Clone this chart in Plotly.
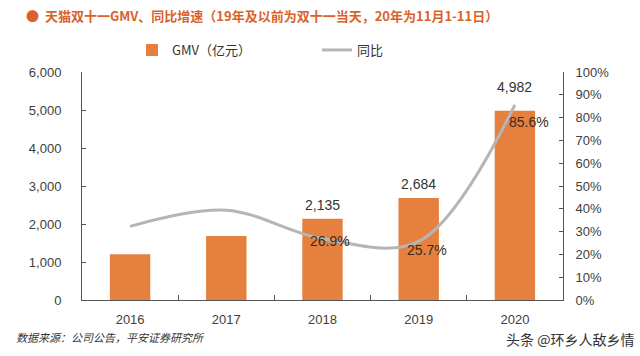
import plotly.graph_objects as go

years = ["2016", "2017", "2018", "2019", "2020"]
gmv = [1207, 1682, 2135, 2684, 4982]
yoy = [0.323, 0.394, 0.269, 0.257, 0.856]
gmv_labels = ["", "", "2,135", "2,684", "4,982"]
yoy_labels = ["", "", "26.9%", "25.7%", "85.6%"]
left_ticks = [0, 1000, 2000, 3000, 4000, 5000, 6000]
right_ticks = [i / 10 for i in range(11)]

BAR = "#E5803F"
LINE = "#B5B5B5"
TXT = "#404040"
TICKFONT = dict(family="Liberation Sans, Arial", size=13, color=TXT)

W, H = 640, 356
L, R, T, B = 82, 77, 72, 56
PW, PH = W - L - R, H - T - B


def px_x(px):
    return (px - L) / PW


def px_y(py):
    return (H - B - py) / PH


fig = go.Figure()
fig.add_trace(go.Bar(
    x=years, y=gmv, name="GMV（亿元）", marker=dict(color=BAR, line=dict(width=0)),
    width=0.42, yaxis="y"))
fig.add_trace(go.Scatter(
    x=years, y=yoy, name="同比", mode="lines", yaxis="y2",
    line=dict(color=LINE, width=3, shape="spline", smoothing=1.0)))

annotations = []
bar_shift = {2: 14, 3: 14, 4: 24}
for i, (v, lab) in enumerate(zip(gmv, gmv_labels)):
    if lab:
        annotations.append(dict(x=i, y=v, xref="x", yref="y", text=lab, showarrow=False,
                                yshift=bar_shift[i],
                                font=dict(family="Liberation Sans, Arial", size=14, color="#333333")))
pct_shift = {2: (7, -2), 3: (8, -9), 4: (14, -17)}
for i, (v, lab) in enumerate(zip(yoy, yoy_labels)):
    if lab:
        dx, dy = pct_shift[i]
        annotations.append(dict(x=i, y=v, xref="x", yref="y2", text=lab, showarrow=False,
                                xshift=dx, yshift=dy,
                                font=dict(family="Liberation Sans, Arial", size=14, color="#3a2a20")))

annotations.append(dict(x=px_x(14), y=px_y(337), xref="paper", yref="paper", xanchor="left", yanchor="middle",
                        text="<i>数据来源：公司公告，平安证券研究所</i>", showarrow=False,
                        font=dict(family="Noto Sans CJK SC", size=11, color="#333333")))
annotations.append(dict(x=px_x(636), y=px_y(339), xref="paper", yref="paper", xanchor="right", yanchor="middle",
                        text="头条 @环乡人敌乡情", showarrow=False,
                        font=dict(family="Noto Sans CJK SC", size=14, color="#333333")))

fig.update_layout(
    width=W, height=H,
    margin=dict(l=L, r=R, t=T, b=B, autoexpand=False),
    paper_bgcolor="white", plot_bgcolor="white",
    title=dict(text="●  天猫双十一GMV、同比增速（19年及以前为双十一当天，20年为11月1-11日）",
               x=26 / W, xanchor="left", y=1 - 16 / H, yanchor="middle",
               font=dict(family="Noto Sans CJK SC", size=13, color="#D9622B", weight="bold")),
    showlegend=True,
    legend=dict(orientation="h", x=132 / W, xanchor="left", y=1 - 50 / H, yanchor="middle",
                yref="container", xref="container",
                entrywidth=140, font=dict(family="Noto Sans CJK SC", size=13, color="#333333"),
                bgcolor="rgba(0,0,0,0)"),
    xaxis=dict(type="category", showline=True, linecolor="#555555", linewidth=1, ticks="inside",
               tickson="boundaries", ticklen=5, tickcolor="#555555", tickfont=TICKFONT,
               showgrid=False, zeroline=False, range=[-0.5, 4.5], ticklabelstandoff=7),
    yaxis=dict(range=[0, 6000], tickvals=left_ticks, tickformat=",", showline=True, linecolor="#555555",
               linewidth=1, ticks="inside", ticklen=4, tickcolor="#555555", tickfont=TICKFONT,
               showgrid=False, zeroline=False, ticklabelstandoff=17),
    yaxis2=dict(range=[0, 1], tickvals=right_ticks, tickformat=".0%", overlaying="y", side="right",
                showline=True, linecolor="#555555", linewidth=1, ticks="inside", ticklen=4,
                tickcolor="#555555", tickfont=TICKFONT, showgrid=False, zeroline=False,
                ticklabelstandoff=9),
    annotations=annotations,
)

fig.write_html("out.html", config={"displayModeBar": False},
               post_script="document.body.style.margin='0';")
